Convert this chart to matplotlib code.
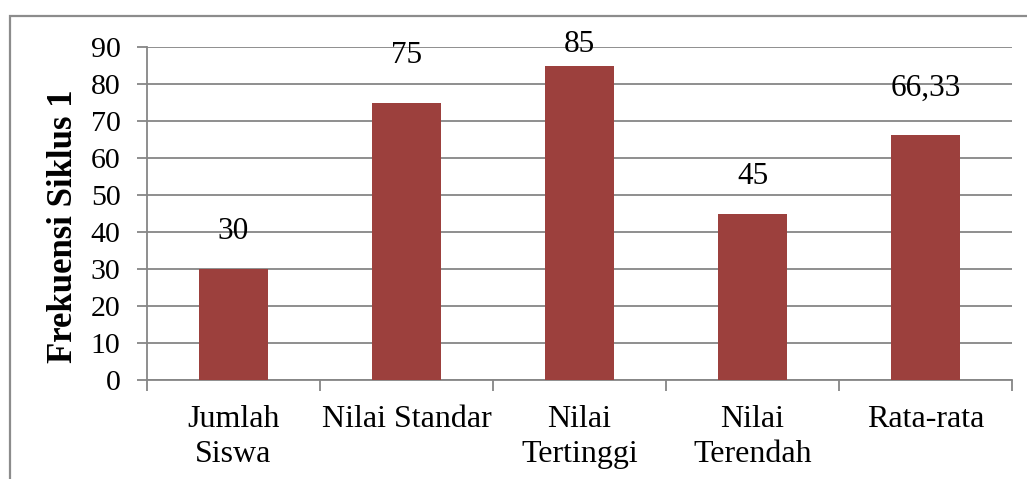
import matplotlib
matplotlib.use("Agg")
import matplotlib.pyplot as plt
from matplotlib.patches import Rectangle

categories = ["Jumlah\nSiswa", "Nilai Standar", "Nilai\nTertinggi", "Nilai\nTerendah", "Rata-rata"]
values = [30, 75, 85, 45, 66.33]
value_labels = ["30", "75", "85", "45", "66,33"]
label_offsets = [21.5, 28.5, 10, 21.5, 28]
y_ticks = list(range(0, 91, 10))

plt.rcParams["font.family"] = ["Liberation Serif", "DejaVu Serif"]

W, H, DPI = 1027, 479, 100
fig = plt.figure(figsize=(W / DPI, H / DPI), dpi=DPI)
ax = fig.add_axes([147 / W, 1 - 380 / H, (1012 - 147) / W, (380 - 47) / H])

grid_c = "#868686"
bar_c = "#9C403D"

x = list(range(len(categories)))
bars = ax.bar(x, values, width=0.4, color=bar_c, zorder=3)

for xi, v, lab, off in zip(x, values, value_labels, label_offsets):
    ax.annotate(lab, (xi, v), xytext=(0, off), textcoords="offset points",
                ha="center", va="baseline", fontsize=22.5, color="black", zorder=4)

ax.set_xlim(-0.5, len(categories) - 0.5)
ax.set_ylim(0, 90)
ax.set_yticks(y_ticks)
ax.set_yticklabels([str(t) for t in y_ticks], fontsize=21.5)
ax.yaxis.grid(True, color=grid_c, lw=1.3, zorder=0)
ax.set_axisbelow(True)

ax.set_xticks(x)
ax.set_xticklabels(categories, fontsize=23, linespacing=1.29)
ax.tick_params(axis="x", length=0, pad=18)
ax.set_xticks([i - 0.5 for i in range(len(categories) + 1)], minor=True)
ax.tick_params(axis="x", which="minor", length=8, color=grid_c, width=1.3)
ax.tick_params(axis="y", length=7, color=grid_c, width=1.3, pad=12)

for s in ["top", "right"]:
    ax.spines[s].set_visible(False)
for s in ["left", "bottom"]:
    ax.spines[s].set_color(grid_c)
    ax.spines[s].set_linewidth(1.3)

fig.text(63 / W, 1 - 226 / H, "Frekuensi Siklus 1", rotation=90, fontsize=25,
         fontweight="bold", ha="center", va="center")

fig.patches.append(Rectangle((10 / W, -0.1), 1.2, 1 - 16 / H + 0.1,
                             transform=fig.transFigure, fill=False,
                             edgecolor="#8c8c8c", lw=1.6))

fig.savefig("out.png", dpi=DPI)
